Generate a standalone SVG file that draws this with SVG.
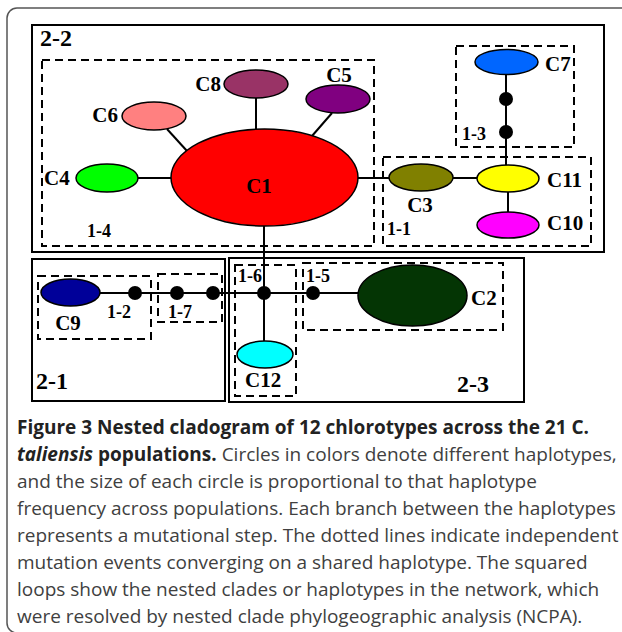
<svg xmlns="http://www.w3.org/2000/svg" width="622" height="632" viewBox="0 0 622 632">
<style>
.frame{fill:none;stroke:#555;stroke-width:1.5}
.box{fill:none;stroke:#000;stroke-width:2}
.dbox{fill:none;stroke:#000;stroke-width:2;stroke-dasharray:8 5}
.hap{stroke:#000;stroke-width:1.5}
.ln{stroke:#000;stroke-width:2;fill:none}
.dot{fill:#000}
.lb{font-family:"Liberation Serif","Times New Roman",serif;font-weight:bold;font-size:21px;fill:#000}
.cl{font-family:"Liberation Serif","Times New Roman",serif;font-weight:bold;font-size:18px;fill:#000}
.gl{font-family:"Liberation Serif","Times New Roman",serif;font-weight:bold;font-size:24px;fill:#000}
.cap{font-family:"Open Sans","Noto Sans",sans-serif;font-size:19px;fill:#404040}
.capb{font-weight:bold;fill:#222}
</style>
<rect class="frame" x="7" y="8" width="640" height="625" rx="10"/>
<g id="clades">
<rect class="box" x="32" y="25" width="572" height="227"/>
<rect class="box" x="32" y="259" width="193" height="142"/>
<rect class="box" x="229" y="258" width="295" height="144"/>
<rect class="dbox" x="42" y="60" width="332" height="186"/>
<rect class="dbox" x="456" y="46" width="118" height="101"/>
<rect class="dbox" x="383" y="157" width="208" height="89"/>
<rect class="dbox" x="38" y="276" width="113" height="63"/>
<rect class="dbox" x="158" y="274" width="64" height="48"/>
<rect class="dbox" x="235" y="265" width="61" height="131"/>
<rect class="dbox" x="303" y="263" width="200" height="67"/>
<text class="gl" x="40" y="46">2-2</text>
<text class="gl" x="36" y="389">2-1</text>
<text class="gl" x="457" y="392">2-3</text>
<text class="cl" x="87" y="237">1-4</text>
<text class="cl" x="462" y="140">1-3</text>
<text class="cl" x="387" y="235">1-1</text>
<text class="cl" x="107" y="318">1-2</text>
<text class="cl" x="168" y="318">1-7</text>
<text class="cl" x="238" y="282">1-6</text>
<text class="cl" x="306" y="282">1-5</text>
</g>
<g id="connectors">
<line class="ln" x1="256" y1="98" x2="256" y2="130"/>
<line class="ln" x1="167" y1="129" x2="187" y2="151"/>
<line class="ln" x1="138" y1="178" x2="172" y2="178"/>
<line class="ln" x1="332" y1="113" x2="312" y2="136"/>
<line class="ln" x1="357" y1="178" x2="389" y2="178"/>
<line class="ln" x1="453" y1="178" x2="477" y2="178"/>
<line class="ln" x1="508" y1="192" x2="508" y2="212"/>
<line class="ln" x1="506" y1="74" x2="506" y2="165"/>
<line class="ln" x1="264" y1="226" x2="264" y2="341"/>
<line class="ln" x1="100" y1="293" x2="358" y2="293"/>
<circle class="dot" cx="506" cy="99" r="7"/>
<circle class="dot" cx="506" cy="132" r="7"/>
<circle class="dot" cx="135" cy="293" r="7"/>
<circle class="dot" cx="177" cy="293" r="7"/>
<circle class="dot" cx="213" cy="293" r="7"/>
<circle class="dot" cx="264" cy="293" r="7"/>
<circle class="dot" cx="313" cy="293" r="7"/>
</g>
<g id="C1"><ellipse class="hap" cx="264.5" cy="177.5" rx="93.5" ry="48.5" fill="#ff0000"/><text class="lb" x="259" y="193" text-anchor="middle" font-size="29">C1</text></g>
<g id="C2"><ellipse class="hap" cx="412.5" cy="295.5" rx="54.5" ry="30.5" fill="#043504"/><text class="lb" x="471" y="305">C2</text></g>
<g id="C3"><ellipse class="hap" cx="421" cy="177.5" rx="32" ry="13.5" fill="#808000"/><text class="lb" x="420" y="212" text-anchor="middle">C3</text></g>
<g id="C4"><ellipse class="hap" cx="107" cy="178" rx="31" ry="14" fill="#00ff00"/><text class="lb" x="44" y="185">C4</text></g>
<g id="C5"><ellipse class="hap" cx="338" cy="99" rx="32" ry="14" fill="#800080"/><text class="lb" x="339" y="82" text-anchor="middle">C5</text></g>
<g id="C6"><ellipse class="hap" cx="154" cy="116" rx="32" ry="14" fill="#ff8080"/><text class="lb" x="118" y="122" text-anchor="end">C6</text></g>
<g id="C7"><ellipse class="hap" cx="506.5" cy="62" rx="31.5" ry="12.5" fill="#0066ff"/><text class="lb" x="545" y="71">C7</text></g>
<g id="C8"><ellipse class="hap" cx="256" cy="84" rx="32" ry="14" fill="#993366"/><text class="lb" x="221" y="91" text-anchor="end">C8</text></g>
<g id="C9"><ellipse class="hap" cx="70.5" cy="292.5" rx="29.5" ry="13.5" fill="#000099"/><text class="lb" x="68" y="330" text-anchor="middle">C9</text></g>
<g id="C10"><ellipse class="hap" cx="508" cy="225" rx="31" ry="13" fill="#ff00ff"/><text class="lb" x="547" y="230">C10</text></g>
<g id="C11"><ellipse class="hap" cx="508" cy="178.5" rx="31" ry="13.5" fill="#ffff00"/><text class="lb" x="547" y="187">C11</text></g>
<g id="C12"><ellipse class="hap" cx="265" cy="354.5" rx="28" ry="13.5" fill="#00ffff"/><text class="lb" x="245" y="387">C12</text></g>
<g id="caption">
<text class="cap capb" x="17" y="434">Figure 3 Nested cladogram of 12 chlorotypes across the 21 C.</text>
<text class="cap" x="17" y="461"><tspan class="capb" font-style="italic">taliensis</tspan><tspan class="capb"> populations.</tspan> Circles in colors denote different haplotypes,</text>
<text class="cap" x="17" y="488">and the size of each circle is proportional to that haplotype</text>
<text class="cap" x="17" y="515">frequency across populations. Each branch between the haplotypes</text>
<text class="cap" x="17" y="542">represents a mutational step. The dotted lines indicate independent</text>
<text class="cap" x="17" y="569">mutation events converging on a shared haplotype. The squared</text>
<text class="cap" x="17" y="596">loops show the nested clades or haplotypes in the network, which</text>
<text class="cap" x="17" y="623">were resolved by nested clade phylogeographic analysis (NCPA).</text>
</g>
</svg>
